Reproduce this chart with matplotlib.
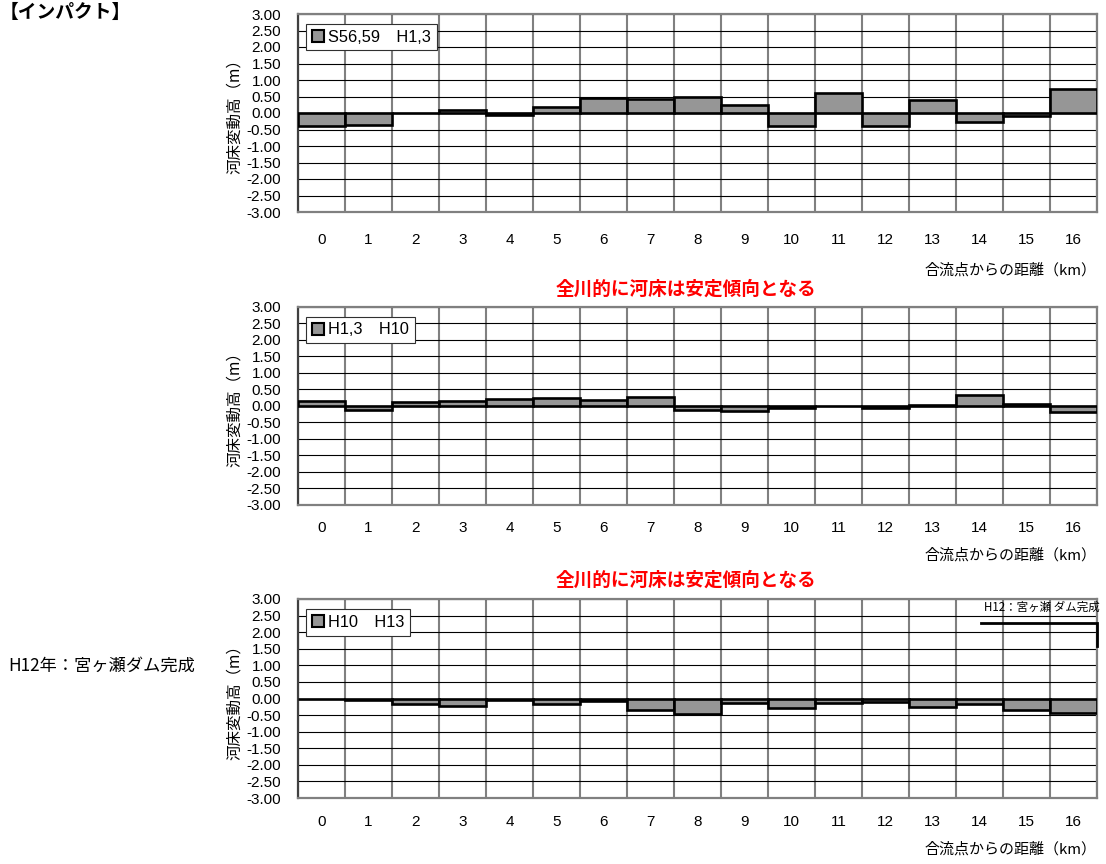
import matplotlib
matplotlib.use("Agg")
import matplotlib.pyplot as plt
from matplotlib.ticker import MultipleLocator, FixedLocator
from matplotlib.patches import Patch

plt.rcParams['font.family'] = ['Liberation Sans', 'Noto Sans CJK JP', 'DejaVu Sans']

# ---- data ----
distance_km = list(range(17))
tick_labels = [str(d) for d in distance_km]

s5659_h13 = [-0.38, -0.37, -0.01, 0.10, -0.05, 0.18, 0.45, 0.42, 0.50, 0.25,
             -0.38, 0.60, -0.38, 0.38, -0.28, -0.08, 0.72]
h13_h10 = [0.15, -0.12, 0.11, 0.13, 0.21, 0.23, 0.16, 0.26, -0.12, -0.15,
           -0.08, -0.02, -0.07, 0.03, 0.32, 0.04, -0.20]
h10_h13 = [-0.03, -0.06, -0.17, -0.23, -0.06, -0.18, -0.07, -0.36, -0.48, -0.15,
           -0.30, -0.15, -0.10, -0.27, -0.18, -0.34, -0.43]

series = [s5659_h13, h13_h10, h10_h13]
legend_labels = ["S56,59\u3000H1,3", "H1,3\u3000H10", "H10\u3000H13"]

y_label = "河床変動高（m）"
x_label = "合流点からの距離（km）"
red_note = "全川的に河床は安定傾向となる"
title_text = "【インパクト】"
side_note = "H12年：宮ヶ瀬ダム完成"
dam_note = "H12：宮ヶ瀬 ダム完成"
dam_marker_x = [14.03, 16.5, 16.5]
dam_marker_y = [2.27, 2.27, 1.58]

W, H = 1106, 864
fig = plt.figure(figsize=(W / 100, H / 100), dpi=100)

# axes boxes in pixels: (left, top, right, bottom)
boxes = [(298, 14, 1097, 212), (298, 306.7, 1097, 504.7), (298, 599, 1097, 798)]
tick_pads = [15, 12, 12]
xlabel_offsets = [58, 51, 51]

bar_color = '#969696'
for i, (vals, lab, box) in enumerate(zip(series, legend_labels, boxes)):
    l, t, r, b = box
    ax = fig.add_axes([l / W, 1 - b / H, (r - l) / W, (b - t) / H])
    ax.bar(distance_km, vals, width=1.0, color=bar_color, edgecolor='black',
           linewidth=1.9, zorder=3)
    ax.set_xlim(-0.5, 16.5)
    ax.set_ylim(-3, 3)
    ax.yaxis.set_major_locator(MultipleLocator(0.5))
    ax.yaxis.set_major_formatter(matplotlib.ticker.FormatStrFormatter('%.2f'))
    ax.set_xticks(distance_km)
    ax.set_xticklabels(tick_labels)
    ax.xaxis.set_minor_locator(FixedLocator([k + 0.5 for k in range(-1, 17)]))
    ax.grid(axis='y', which='major', color='black', linewidth=0.8, zorder=1)
    ax.grid(axis='x', which='minor', color='#808080', linewidth=1.5, zorder=1)
    ax.grid(axis='x', which='major', visible=False)
    ax.tick_params(axis='both', which='both', length=0, labelsize=11)
    ax.tick_params(axis='y', pad=12)
    ax.tick_params(axis='x', pad=tick_pads[i])
    for name, sp in ax.spines.items():
        sp.set_color('#808080')
        sp.set_linewidth(1.6)
    ax.spines['left'].set_color('#404040')
    ax.set_axisbelow(True)
    ax.set_ylabel(y_label, fontsize=11.2, labelpad=3,
                  family=['Noto Sans CJK JP', 'Liberation Sans'])
    handle = Patch(facecolor=bar_color, edgecolor='black', linewidth=1.5)
    leg = ax.legend([handle], [lab], loc='upper left',
                    bbox_to_anchor=(8 / 799, 1 - 10 / 198), borderaxespad=0,
                    fancybox=False, framealpha=1, edgecolor='#303030',
                    fontsize=11.8, handlelength=0.75, handleheight=0.75,
                    handletextpad=0.25, borderpad=0.35)
    leg.get_frame().set_linewidth(0.8)
    leg.set_zorder(5)
    # x label under each panel
    fig.text(1097 / W, 1 - (b + xlabel_offsets[i]) / H, x_label, ha='right',
             va='center', fontsize=10.8,
             family=['Noto Sans CJK JP', 'Liberation Sans'])
    if i == 2:
        ax.plot(dam_marker_x, dam_marker_y, color='black', linewidth=2,
                zorder=4, clip_on=False, solid_joinstyle='miter')
        ax.text(16.55, 2.74, dam_note, ha='right', va='center', fontsize=8.3,
                family=['Noto Sans CJK JP', 'Liberation Sans'], zorder=4)

for yc in (289, 580):
    fig.text(686 / W, 1 - yc / H, red_note, ha='center', va='center',
             color='#ff0000', fontsize=13.4, fontweight='bold',
             family=['Noto Sans CJK JP'])

fig.text(0 / W, 1 - 12 / H, title_text, ha='left', va='center', fontsize=13.5,
         fontweight='bold', family=['Noto Sans CJK JP'])
fig.text(8 / W, 1 - 666 / H, side_note, ha='left', va='center', fontsize=12.4,
         family=['Noto Sans CJK JP', 'Liberation Sans'])

fig.savefig("out.png", dpi=100)
